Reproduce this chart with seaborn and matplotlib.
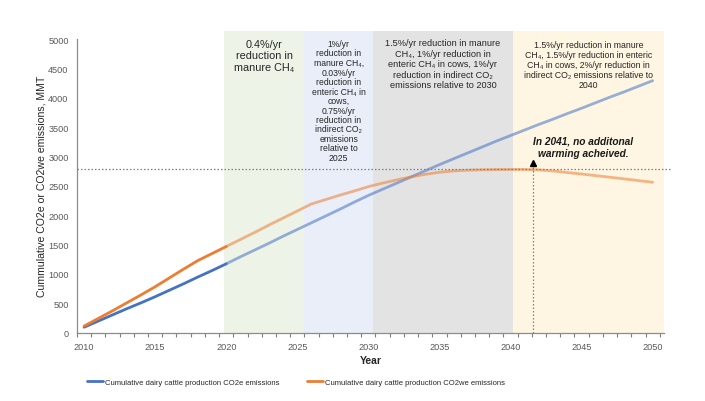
import numpy as np
import pandas as pd
import matplotlib
matplotlib.use("Agg")
import matplotlib.pyplot as plt
import matplotlib.transforms as mtransforms
import seaborn as sns
from matplotlib.lines import Line2D

# ---------------- data ----------------
years = list(range(2010, 2051))
co2e = [90, 195, 300, 405, 505, 610, 720, 830, 945, 1055,
        1170, 1290, 1405, 1520, 1640, 1755, 1870, 1985, 2100, 2220,
        2335, 2440, 2545, 2650, 2755, 2860, 2960, 3060, 3160, 3260,
        3355, 3450, 3545, 3635, 3730, 3820, 3915, 4010, 4100, 4195, 4290]
co2we = [110, 240, 370, 505, 640, 780, 930, 1080, 1225, 1345,
         1465, 1585, 1705, 1830, 1950, 2070, 2190, 2265, 2340, 2410,
         2485, 2545, 2600, 2650, 2695, 2730, 2752, 2765, 2772, 2776,
         2778, 2778, 2770, 2752, 2725, 2700, 2672, 2645, 2617, 2588, 2560]
series_names = ["Cumulative dairy cattle production CO2e emissions",
                "Cumulative dairy cattle production CO2we emissions"]
hist_end = 2020
threshold = 2780
marker_year = 2041.55
band_edges = [2019.85, 2025.49, 2030.34, 2040.15, 2050.8]
band_colors = ["#EEF3E8", "#E9EEF8", "#E3E3E3", "#FEF6E3"]
band_texts = [
    "0.4%/yr\nreduction in\nmanure CH\u2084",
    "1%/yr\nreduction in\nmanure CH\u2084,\n0.03%/yr\nreduction in\nenteric CH\u2084 in\ncows,\n0.75%/yr\nreduction in\nindirect CO\u2082\nemissions\nrelative to\n2025",
    "1.5%/yr reduction in manure\nCH\u2084, 1%/yr reduction in\nenteric CH\u2084 in cows, 1%/yr\nreduction in indirect CO\u2082\nemissions relative to 2030",
    "1.5%/yr reduction in manure\nCH\u2084, 1.5%/yr reduction in enteric\nCH\u2084 in cows, 2%/yr reduction in\nindirect CO\u2082 emissions relative to\n2040",
]
band_fontsizes = [7.8, 6.2, 6.6, 6.3]
annotation = "In 2041, no additonal\nwarming acheived."
x_ticks = [2010, 2015, 2020, 2025, 2030, 2035, 2040, 2045, 2050]
y_ticks = list(range(0, 5001, 500))

# layout (pixels from top of figure): first line centre, line step
band_first_line = [43.5, 43.5, 43.0, 44.0]
band_line_step = [11.7, 9.5, 10.4, 10.25]

# ---------------- style ----------------
sns.set_theme(style="white")
plt.rcParams["font.family"] = ["Liberation Sans", "DejaVu Sans"]

blue = "#4472C4"
orange = "#ED7D31"

W, H = 705, 402
fig = plt.figure(figsize=(W / 100, H / 100), dpi=100)
ax = fig.add_axes([77 / W, 1 - 333.5 / H, (664 - 77) / W, (333.5 - 40) / H])
blend = mtransforms.blended_transform_factory(ax.transData, fig.transFigure)

# bands
for i, c in enumerate(band_colors):
    ax.axvspan(band_edges[i], band_edges[i + 1], ymin=0, ymax=1.027,
               color=c, lw=0, zorder=0, clip_on=False)
    xc = (band_edges[i] + band_edges[i + 1]) / 2
    for k, line in enumerate(band_texts[i].split("\n")):
        ypx = band_first_line[i] + k * band_line_step[i]
        ax.text(xc, 1 - ypx / H, line, transform=blend, ha="center", va="center_baseline",
                fontsize=band_fontsizes[i], color="#262626", zorder=3)

df = pd.DataFrame({"Year": years, series_names[0]: co2e, series_names[1]: co2we})
long = df.melt("Year", var_name="series", value_name="value")
hist = long[long["Year"] <= hist_end]
proj = long[long["Year"] >= hist_end]
pal = {series_names[0]: blue, series_names[1]: orange}

sns.lineplot(data=proj, x="Year", y="value", hue="series", palette=pal,
             lw=2.0, alpha=0.55, ax=ax, legend=False, zorder=4)
sns.lineplot(data=hist, x="Year", y="value", hue="series", palette=pal,
             lw=2.0, ax=ax, legend=False, zorder=5)

# threshold line
ax.plot([2009.5, 2051.2], [threshold, threshold], ls=(0, (1.2, 1.6)),
        color="#7F7F7F", lw=0.9, clip_on=False, zorder=6)
ax.plot([marker_year, marker_year], [0, 2830], ls=(0, (1.2, 1.6)),
        color="#7F7F7F", lw=0.9, zorder=6)
ax.plot([marker_year], [2880], marker="^", color="black", ms=4, zorder=7)
ax.text(2045.1, 3160, annotation, ha="center", va="center", fontsize=7.3,
        fontweight="bold", fontstyle="italic", color="#1a1a1a",
        linespacing=1.35, zorder=7)

# axes
ax.set_xlim(2009.5, 2050.8)
ax.set_ylim(0, 5000)
ax.set_xticks(x_ticks)
ax.set_xticklabels([str(t) for t in x_ticks])
ax.set_xticks(np.arange(2009.5, 2051, 1), minor=True)
ax.set_yticks(y_ticks)
ax.set_yticklabels([str(t) for t in y_ticks])
ax.tick_params(axis="x", which="major", length=0, pad=7, labelsize=6.6, labelcolor="#595959")
ax.tick_params(axis="x", which="minor", length=3, width=0.8, color="#7F7F7F", direction="out", bottom=True)
ax.tick_params(axis="y", length=0, pad=6, labelsize=6.6, labelcolor="#595959")
for s in ["top", "right"]:
    ax.spines[s].set_visible(False)
for s in ["left", "bottom"]:
    ax.spines[s].set_color("#8C8C8C")
    ax.spines[s].set_linewidth(0.9)
ax.set_xlabel("Year", fontsize=7.5, fontweight="bold", color="#262626", labelpad=3)
ax.set_ylabel("Cummulative CO2e or CO2we emissions, MMT", fontsize=7.6, color="#262626", labelpad=1)
ax.grid(False)

handles = [Line2D([0], [0], color=blue, lw=2), Line2D([0], [0], color=orange, lw=2)]
fig.legend(handles, series_names, loc="center", bbox_to_anchor=(296 / W, 1 - 383 / H),
           ncol=2, frameon=False, fontsize=5.5, handlelength=2.2, handletextpad=0.25,
           columnspacing=3.5, labelcolor="#262626")

fig.savefig("out.png", dpi=100, facecolor="white")
